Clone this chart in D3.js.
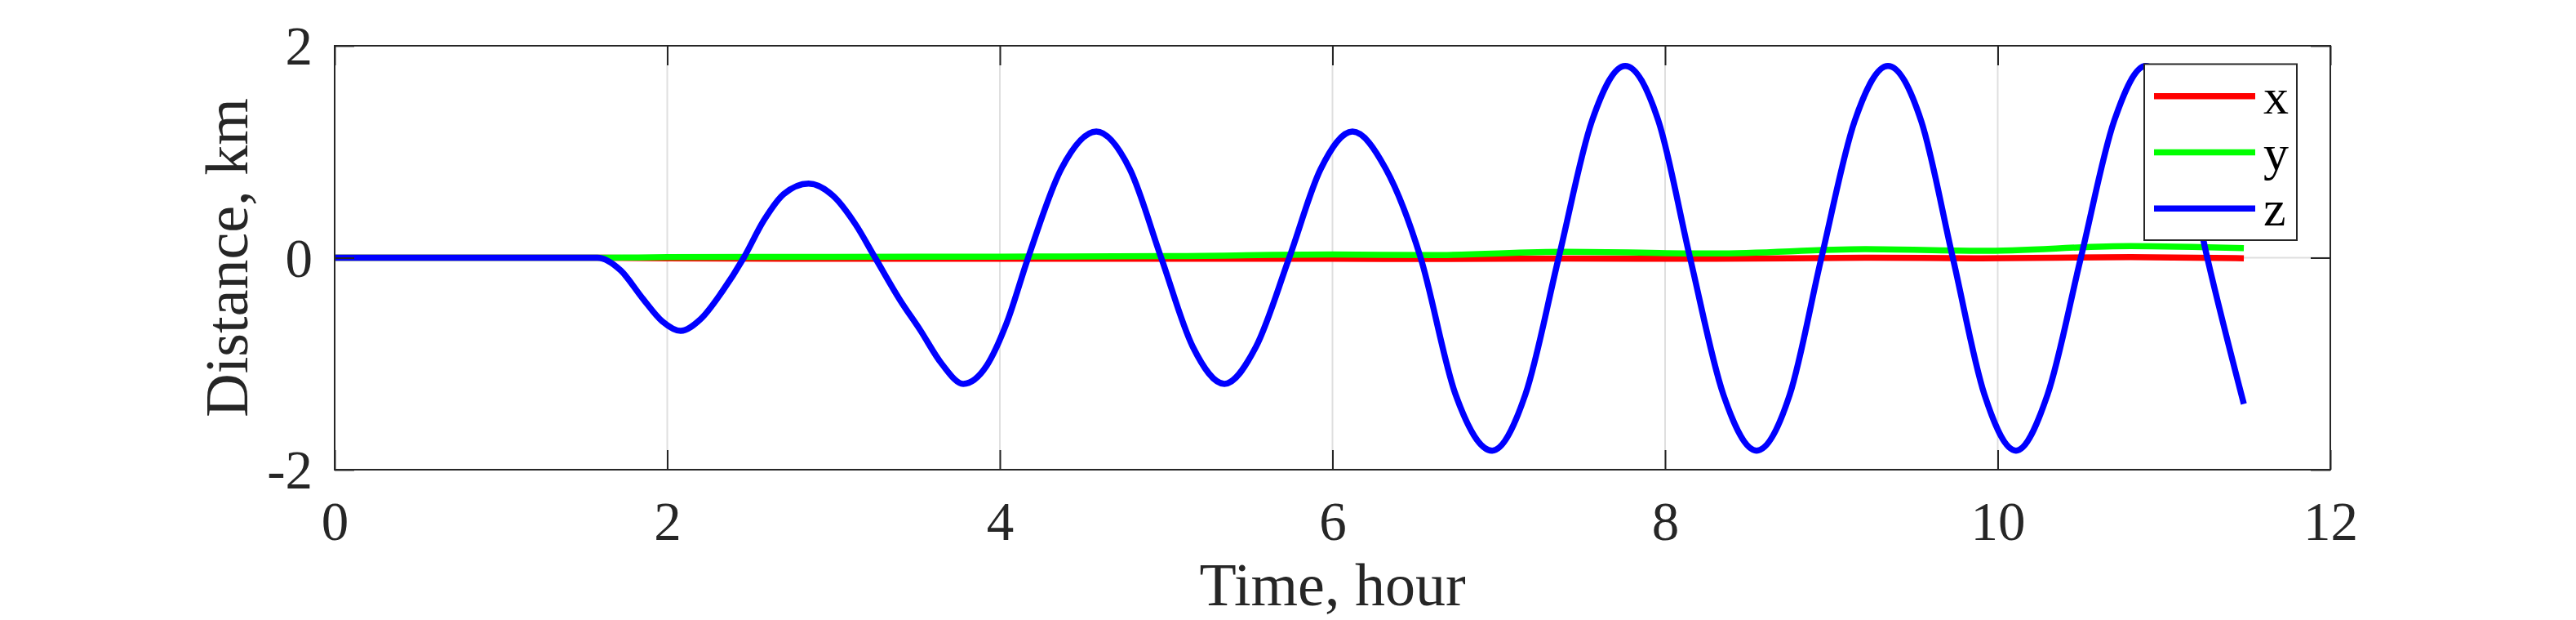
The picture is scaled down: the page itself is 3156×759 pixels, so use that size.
<!DOCTYPE html>
<html>
<head>
<meta charset="utf-8">
<script src="https://cdn.jsdelivr.net/npm/d3@7"></script>
<style>
  body { margin: 0; background: #fff; }
  svg { display: block; font-family: "Liberation Serif", "Times New Roman", serif; }
</style>
</head>
<body>
<svg id="chart"></svg>
<script>
// values
const xTicks = [0, 2, 4, 6, 8, 10, 12];
const yTicks = [-2, 0, 2];
const seriesNames = ["x", "y", "z"];
const seriesColors = ["#ff0000", "#00ff00", "#0000ff"];

// z (blue) distance, km
const zTime = [0, 1.0, 1.58, 1.72, 1.85, 1.97, 2.08, 2.20, 2.33, 2.46, 2.58, 2.70, 2.85, 3.00, 3.13, 3.25,
  3.40, 3.52, 3.65, 3.78, 3.92, 4.04, 4.17, 4.37, 4.58, 4.78, 4.97, 5.16, 5.35, 5.54, 5.74, 5.93,
  6.12, 6.32, 6.53, 6.74, 6.96, 7.16, 7.36, 7.56, 7.76, 7.96, 8.15, 8.35, 8.55, 8.75, 8.94, 9.14,
  9.34, 9.54, 9.73, 9.92, 10.11, 10.30, 10.50, 10.70, 10.89, 11.08, 11.26, 11.48];
const zValues = [0, 0, 0, -0.12, -0.38, -0.60, -0.69, -0.58, -0.32, 0, 0.35, 0.60, 0.70, 0.58, 0.32, 0,
  -0.40, -0.68, -1.00, -1.19, -1.02, -0.62, 0, 0.84, 1.19, 0.84, 0, -0.84, -1.19, -0.84, 0, 0.84,
  1.19, 0.84, 0, -1.29, -1.82, -1.29, 0, 1.29, 1.81, 1.29, 0, -1.29, -1.82, -1.29, 0, 1.29,
  1.81, 1.29, 0, -1.29, -1.82, -1.29, 0, 1.29, 1.81, 1.29, 0, -1.38];

// x (red) and y (green) distance, km
const xyTime = [0, 1.6, 2.0, 3.0, 4.0, 5.0, 6.0, 6.6, 7.4, 8.3, 9.2, 9.9, 10.8, 11.48];
const xValues = [0, 0, -0.005, -0.01, -0.01, -0.01, -0.01, -0.012, -0.008, -0.01, 0, -0.005, 0.005, -0.005];
const yValues = [0, 0, 0.005, 0.008, 0.01, 0.015, 0.03, 0.025, 0.055, 0.04, 0.08, 0.065, 0.11, 0.09];

const width = 3156, height = 759;
const margin = {top: 56, right: 301, bottom: 184, left: 410};
const innerW = width - margin.left - margin.right;
const innerH = height - margin.top - margin.bottom;

const svg = d3.select("#chart").attr("width", width).attr("height", height);
svg.append("rect").attr("width", width).attr("height", height).attr("fill", "#fff");

const chart = svg.append("g").attr("transform", `translate(${margin.left},${margin.top})`);

const x = d3.scaleLinear().domain([0, 12]).range([0, innerW]);
const y = d3.scaleLinear().domain([-2, 2]).range([innerH, 0]);

// grid lines
chart.selectAll(".gx").data(xTicks.slice(1, -1)).enter().append("line")
  .attr("x1", d => x(d)).attr("x2", d => x(d))
  .attr("y1", 0).attr("y2", innerH)
  .attr("stroke", "#dfdfdf").attr("stroke-width", 2);
chart.selectAll(".gy").data(yTicks.slice(1, -1)).enter().append("line")
  .attr("x1", 0).attr("x2", innerW)
  .attr("y1", d => y(d)).attr("y2", d => y(d))
  .attr("stroke", "#dfdfdf").attr("stroke-width", 2);

// series
const line = d3.line()
  .x(d => x(d[0])).y(d => y(d[1]))
  .curve(d3.curveMonotoneX);

const seriesData = [
  d3.zip(xyTime, xValues),
  d3.zip(xyTime, yValues),
  d3.zip(zTime, zValues)
];

chart.selectAll(".series").data(seriesData).enter().append("path")
  .attr("d", line)
  .attr("fill", "none")
  .attr("stroke", (d, i) => seriesColors[i])
  .attr("stroke-width", 7.5)
  .attr("stroke-linejoin", "round");

// axes with inner ticks, box on
const tickLen = 24;
const axisColor = "#262626";
const fmt = d => d < 0 ? "-" + Math.abs(d) : String(d);
const bottomAxis = chart.append("g").attr("transform", `translate(0,${innerH})`)
  .call(d3.axisBottom(x).tickValues(xTicks).tickSizeInner(-tickLen).tickSizeOuter(0).tickPadding(38).tickFormat(fmt));
const topAxis = chart.append("g")
  .call(d3.axisTop(x).tickValues(xTicks).tickSizeInner(-tickLen).tickSizeOuter(0).tickFormat(""));
const leftAxis = chart.append("g")
  .call(d3.axisLeft(y).tickValues(yTicks).tickSizeInner(-tickLen).tickSizeOuter(0).tickPadding(27).tickFormat(fmt));
const rightAxis = chart.append("g").attr("transform", `translate(${innerW},0)`)
  .call(d3.axisRight(y).tickValues(yTicks).tickSizeInner(-tickLen).tickSizeOuter(0).tickFormat(""));

[bottomAxis, topAxis, leftAxis, rightAxis].forEach(a => {
  a.select(".domain").remove();
  a.selectAll(".tick line").attr("stroke", axisColor).attr("stroke-width", 2);
  a.selectAll("text")
    .attr("fill", axisColor)
    .style("font-family", '"Liberation Serif", serif')
    .style("font-size", "67px");
});
bottomAxis.selectAll("text").attr("dy", "0.71em");
leftAxis.selectAll("text").attr("dy", "0.34em");

chart.append("rect")
  .attr("width", innerW).attr("height", innerH)
  .attr("fill", "none").attr("stroke", axisColor).attr("stroke-width", 2);

// axis labels
svg.append("text")
  .attr("x", margin.left + innerW / 2).attr("y", 741)
  .attr("text-anchor", "middle").attr("fill", axisColor)
  .style("font-size", "74px")
  .text("Time, hour");

svg.append("text")
  .attr("transform", `translate(303,${margin.top + innerH / 2}) rotate(-90)`)
  .attr("text-anchor", "middle").attr("fill", axisColor)
  .style("font-size", "74px")
  .text("Distance, km");

// legend
const legend = svg.append("g");
legend.append("rect")
  .attr("x", 2627).attr("y", 78.5).attr("width", 187).attr("height", 215.5)
  .attr("fill", "#fff").attr("stroke", axisColor).attr("stroke-width", 2);
const entryY = d3.scalePoint().domain(seriesNames).range([117.7, 255.3]);
seriesNames.forEach((name, i) => {
  legend.append("line")
    .attr("x1", 2639).attr("x2", 2763)
    .attr("y1", entryY(name)).attr("y2", entryY(name))
    .attr("stroke", seriesColors[i]).attr("stroke-width", 7.5);
  legend.append("text")
    .attr("x", 2773).attr("y", entryY(name) + 21)
    .attr("fill", "#000")
    .style("font-size", "62px")
    .text(name);
});
</script>
</body>
</html>
